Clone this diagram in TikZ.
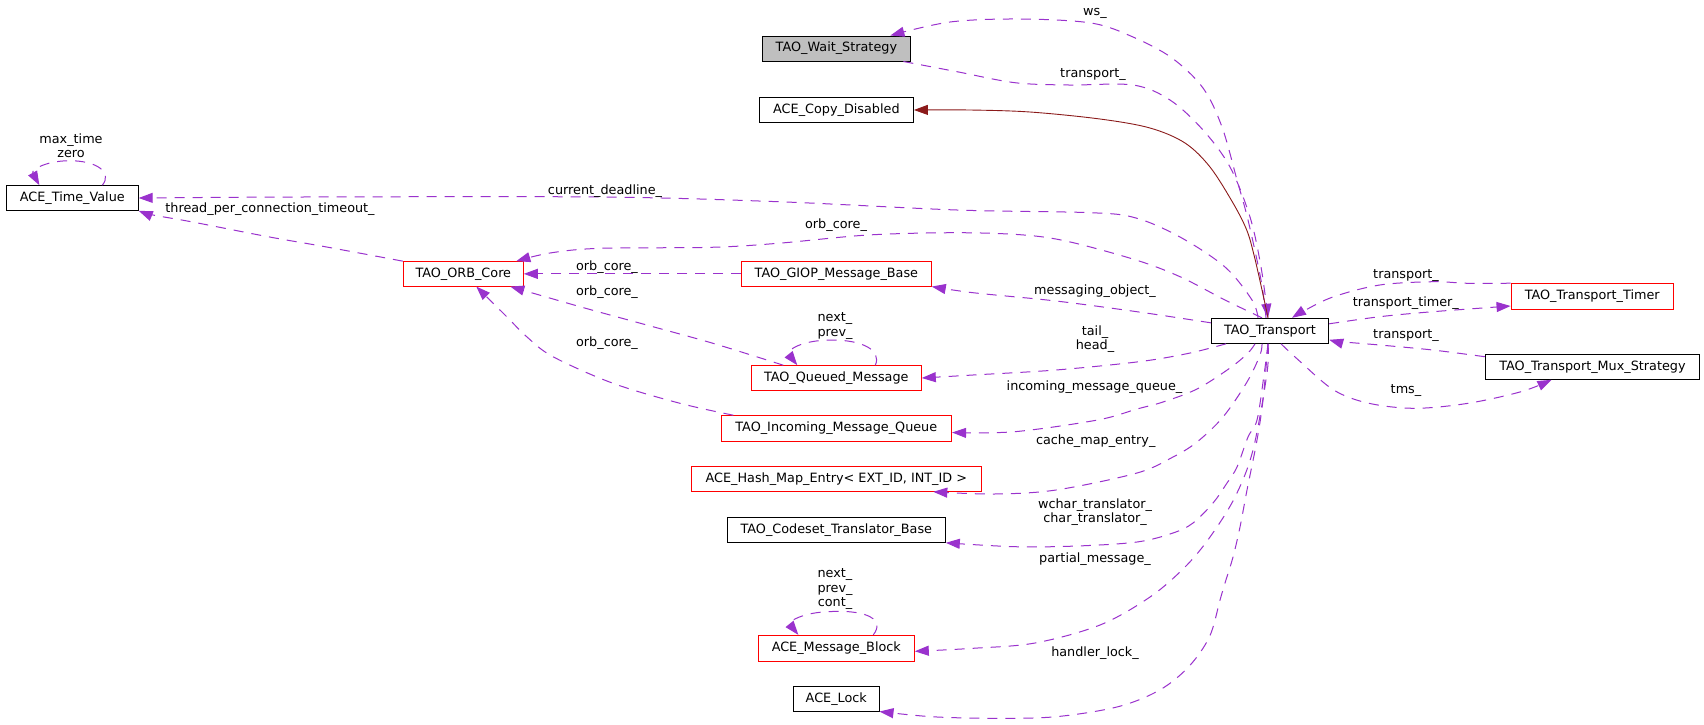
\documentclass[tikz,border=0pt]{standalone}
\usepackage{fontspec}
\setmainfont{DejaVu Sans}
\usetikzlibrary{arrows.meta}
\definecolor{dorch}{HTML}{9A32CD}
\definecolor{fbrick}{HTML}{8B1A1A}
\definecolor{gbox}{HTML}{BFBFBF}
\newcommand\lblfont{\fontsize{12.8}{14.4}\selectfont}
\tikzset{
  box/.style={draw=black, line width=1pt, rectangle, inner sep=0pt, font=\lblfont, text=black},
  rbox/.style={box, draw=red},
  gbx/.style={box, fill=gbox},
  dep/.style={draw=dorch, line width=1pt, dash pattern=on 10pt off 8pt, -{Triangle[length=14pt,width=10pt,fill=dorch]}},
  inh/.style={draw=fbrick, line width=0.9pt, -{Triangle[length=14pt,width=10pt,fill=fbrick]}},
  lab/.style={font=\lblfont, align=center, inner sep=0pt, text=black},
  sm/.style={smooth, tension=0.55}
}
\begin{document}
\begin{tikzpicture}[x=1pt, y=-1pt]
\useasboundingbox[fill=white] (0,0) rectangle (1704,724);
% nodes
\node[box, minimum width=131.7pt, minimum height=24.6pt] (tv) at (72.35,198) {ACE\_Time\_Value};
\node[rbox, minimum width=120pt, minimum height=24.4pt] (orb) at (463.3,273.85) {TAO\_ORB\_Core};
\node[gbx, minimum width=147.8pt, minimum height=25pt] (ws) at (836.4,48.5) {TAO\_Wait\_Strategy};
\node[box, minimum width=154pt, minimum height=24.6pt] (cd) at (836.4,110) {ACE\_Copy\_Disabled};
\node[rbox, minimum width=189.7pt, minimum height=24.4pt] (giop) at (836.4,273.85) {TAO\_GIOP\_Message\_Base};
\node[box, minimum width=117.4pt, minimum height=25pt] (tr) at (1270,330.8) {TAO\_Transport};
\node[rbox, minimum width=162.3pt, minimum height=25.6pt] (tt) at (1592.2,296.5) {TAO\_Transport\_Timer};
\node[box, minimum width=214.5pt, minimum height=24.6pt] (mux) at (1592.5,367) {TAO\_Transport\_Mux\_Strategy};
\node[rbox, minimum width=170pt, minimum height=24.6pt] (qm) at (836.3,378) {TAO\_Queued\_Message};
\node[rbox, minimum width=230.6pt, minimum height=25.6pt] (imq) at (836.3,428.5) {TAO\_Incoming\_Message\_Queue};
\node[rbox, minimum width=290.2pt, minimum height=25pt] (hme) at (836.3,478.8) {ACE\_Hash\_Map\_Entry< EXT\_ID, INT\_ID >};
\node[box, minimum width=218pt, minimum height=25pt] (ctb) at (836.3,529.8) {TAO\_Codeset\_Translator\_Base};
\node[rbox, minimum width=156pt, minimum height=26pt] (mb) at (836.3,648.3) {ACE\_Message\_Block};
\node[box, minimum width=85.4pt, minimum height=24.4pt] (lock) at (836.3,698.8) {ACE\_Lock};
% edges
\draw[dep] plot[sm] coordinates {([xshift=-4pt]tr.north) (1261,280) (1248,220) (1237,180) (1222,127) (1203,88) (1172,58) (1133,37) (1091,23) (1020,19) (950,22) ([xshift=54pt]ws.north)};
\draw[dep] plot[sm] coordinates {([xshift=67pt]ws.south) (957,71.7) (1015,82.7) (1069,85) (1133,85) (1170,100) (1203,130) (1230,167) (1250,217) (1261,267) ([xshift=-2pt]tr.north)};
\draw[inh] plot[sm] coordinates {([xshift=-2pt]tr.north) (1262,290) (1254,255) (1246.7,230) (1233,203) (1210,167) (1185,143) (1150,128) (1100,119) (1030,112) (970,110) (cd.east)};
\draw[dep] plot[sm] coordinates {([xshift=-12pt]tr.north) (1252,300) (1225,267) (1180,237) (1136,218) (1091,212.7) (957,210) (778,201.7) (600,197) (300,197) (tv.east)};
\draw[dep] plot[sm] coordinates {(orb.north west) (325,246.7) (268,236.7) (191,221.7) (153,215) (tv.south east)};
\draw[dep] plot[sm] coordinates {([xshift=-8pt]tr.north) (1225,300) (1180,276.7) (1136,260) (1069,241.7) (1024,235) (957,232.7) (868,235) (778,243.3) (711,247.3) (600,248.3) (550,253) ([xshift=53pt]orb.north)};
\draw[dep] (giop.west) -- (orb.east);
\draw[dep] plot[sm] coordinates {([xshift=-53pt]qm.north) (713,343.3) (646.7,325) (580,306.7) ([xshift=47pt]orb.south)};
\draw[dep] plot[sm] coordinates {([xshift=-103pt]imq.north) (680,403.3) (613,383.3) (553,356.7) (526.7,336.7) (506.7,316.7) ([xshift=13pt]orb.south)};
\draw[dep] plot[sm] coordinates {([yshift=8pt]tr.west) (1139,312) (1056,301) (973,292.7) (giop.south east)};
\draw[dep] plot[sm] coordinates {([xshift=-44pt]tr.south) (1188.7,353.3) (1139,361.7) (1056,370) (973,375) (qm.east)};
\draw[dep] ([xshift=39pt]qm.north) .. controls (882,350) and (862,340) .. (832,340) .. controls (800,340) and (786,351) .. ([xshift=-39pt]qm.north);
\draw[dep] plot[sm] coordinates {([xshift=-15pt]tr.south) (1248,353) (1230,368) (1197,389) (1163,402) (1137,409) (1097.5,420) (1014.6,431.7) ([yshift=-4pt]imq.east)};
\draw[dep] plot[sm] coordinates {([xshift=-8pt]tr.south) (1260,355) (1247,382) (1223,417) (1197,442) (1173,457) (1137,473) (1056,490) (994,494) ([xshift=97pt]hme.south)};
\draw[dep] plot[sm] coordinates {([xshift=-2pt]tr.south) (1264,375) (1257,420) (1248,437) (1237,467) (1227,483) (1213,503) (1193,523) (1173,533) (1137,542) (1077,546) (1015,546.7) (ctb.south east)};
\draw[dep] plot[sm] coordinates {([xshift=-2pt]tr.south) (1267,373) (1253,450) (1235,497) (1210,537) (1185,567) (1150,597) (1100,625) (1035,643) (973,648.3) ([yshift=-3pt]mb.east)};
\draw[dep] ([xshift=37pt]mb.north) .. controls (885,620) and (868,610) .. (832,611.5) .. controls (802,612) and (788,622) .. ([xshift=-38pt]mb.north);
\draw[dep] plot[sm] coordinates {([xshift=-2pt]tr.south) (1263,400) (1257,440) (1247,490) (1240,527) (1233,557) (1225,583) (1220,600) (1209.5,636.7) (1188.7,666.7) (1159.7,690) (1118,706.7) (1056,716.7) (994,718.3) (931.7,716.7) (lock.south east)};
\draw[dep] plot[sm] coordinates {(tt.north west) (1468,283.3) (1432.7,281.7) (1379.7,285) (1333.7,296.7) (1305.5,310) ([xshift=22pt]tr.north)};
\draw[dep] plot[sm] coordinates {([yshift=7pt]tr.east) (1379.7,316.7) (1432.7,311.7) ([yshift=-9.5pt]tt.west)};
\draw[dep] plot[sm] coordinates {([yshift=-2.5pt]mux.north west) (1432.7,350) (1379.7,345) (1340.8,341.7) ([yshift=-9pt]tr.east)};
\draw[dep] plot[sm] coordinates {([xshift=11pt]tr.south) (1298.4,360) (1333.7,390) (1369,403.3) (1415,408.3) (1468,403.3) (1521,391.7) ([xshift=-41pt]mux.south)};
\draw[dep] ([xshift=30pt]tv.north) .. controls (113,172) and (96,160.5) .. (69,160.7) .. controls (45,161) and (31,170) .. ([xshift=-33pt]tv.north);
% labels
\node[lab] (l1) at (1095,13) {ws\_};
\node[lab] (l2) at (1093,75) {transport\_};
\node[lab] (l3) at (605,191) {current\_deadline\_};
\node[lab] (l4) at (270,209) {thread\_per\_connection\_timeout\_};
\node[lab] (l5) at (836,225) {orb\_core\_};
\node[lab] (l6) at (607,267) {orb\_core\_};
\node[lab] (l7) at (607,292) {orb\_core\_};
\node[lab] (l8) at (607,342.7) {orb\_core\_};
\node[lab] (l9) at (1095,291) {messaging\_object\_};
\node[lab] (l10) at (1095,339) {tail\_\\head\_};
\node[lab] (l11) at (835,326) {next\_\\prev\_};
\node[lab] (l12) at (1094.5,386.7) {incoming\_message\_queue\_};
\node[lab] (l13) at (1095.7,441) {cache\_map\_entry\_};
\node[lab] (l14) at (1095,512) {wchar\_translator\_\\char\_translator\_};
\node[lab] (l15) at (1095,559) {partial\_message\_};
\node[lab] (l16) at (835,589.3) {next\_\\prev\_\\cont\_};
\node[lab] (l17) at (1095,652.7) {handler\_lock\_};
\node[lab] (l18) at (1406,275.7) {transport\_};
\node[lab] (l19) at (1405.8,303.3) {transport\_timer\_};
\node[lab] (l20) at (1406,336) {transport\_};
\node[lab] (l21) at (1406,390.7) {tms\_};
\node[lab] (l22) at (71,145.5) {max\_time\\zero};
\end{tikzpicture}
\end{document}
